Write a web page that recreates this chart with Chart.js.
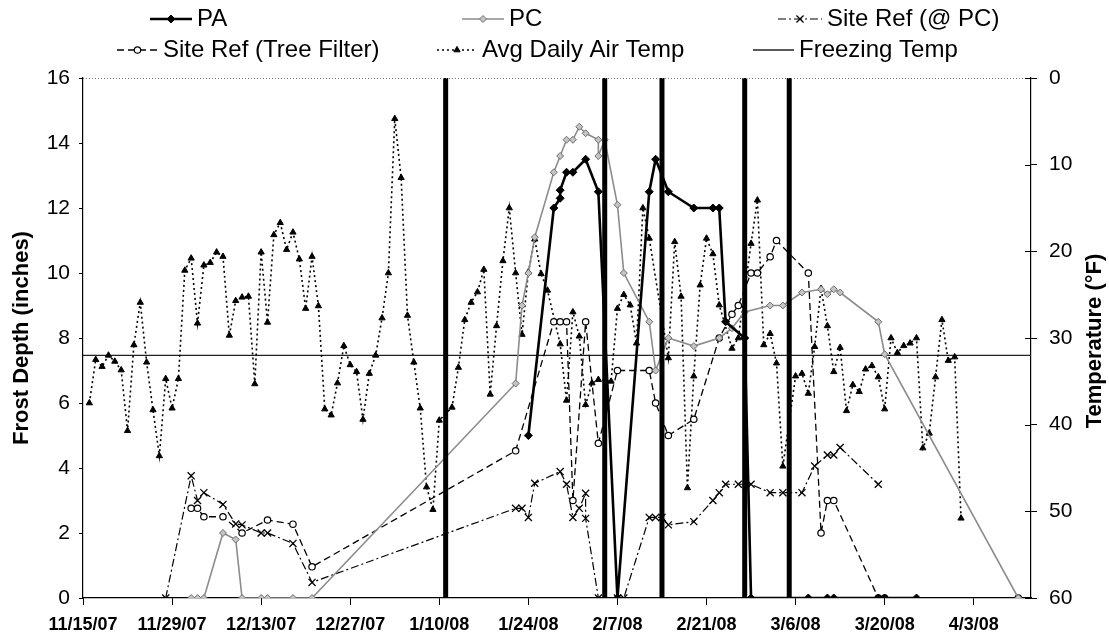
<!DOCTYPE html>
<html>
<head>
<meta charset="utf-8">
<script src="https://cdn.jsdelivr.net/npm/chart.js@4.4.1/dist/chart.umd.min.js"></script>
<style>
html,body{margin:0;padding:0;background:#fff}
</style>
</head>
<body>
<canvas id="frost" width="1109" height="640"></canvas>
<script>
/****************************************************
 Frost depth vs. air temperature, winter 2007-08
****************************************************/
const BASE = Date.UTC(2007, 10, 15);
const toDay = (s) => { const [m, d, y] = s.split("/").map(Number); return (Date.UTC(2000 + y, m - 1, d) - BASE) / 864e5; };
const toLabel = (n) => { const t = new Date(BASE + n * 864e5); return `${t.getUTCMonth() + 1}/${t.getUTCDate()}/${String(t.getUTCFullYear() % 100).padStart(2, "0")}`; };
const pts = (dates, vals) => dates.map((s, i) => ({ x: toDay(s), y: vals[i] }));

/* ===== data ===== */
const xTickDates = ["11/15/07","11/29/07","12/13/07","12/27/07","1/10/08","1/24/08","2/7/08","2/21/08","3/6/08","3/20/08","4/3/08"];
const X_MIN = "11/15/07", X_MAX = "4/12/08";
const depthTicks = [0, 2, 4, 6, 8, 10, 12, 14, 16];
const tempTicks = [0, 10, 20, 30, 40, 50, 60];

const paDates = ["1/24/08","1/28/08","1/29/08","1/29/08","1/30/08","1/31/08","2/2/08","2/4/08","2/7/08","2/12/08","2/13/08","2/15/08","2/19/08","2/22/08","2/23/08","2/24/08","2/27/08","2/28/08","3/8/08","3/11/08","3/12/08","3/19/08","3/20/08","3/25/08"];
const paDepth = [5.0,12.0,12.3,12.55,13.1,13.1,13.5,12.5,0,12.5,13.5,12.5,12.0,12.0,12.0,8.5,8.0,0,0,0,0,0,0,0];

const pcDates = ["12/2/07","12/3/07","12/4/07","12/7/07","12/9/07","12/10/07","12/13/07","12/14/07","12/18/07","12/21/07","1/22/08","1/23/08","1/24/08","1/25/08","1/28/08","1/29/08","1/30/08","1/31/08","2/1/08","2/2/08","2/4/08","2/4/08","2/5/08","2/7/08","2/8/08","2/12/08","2/13/08","2/15/08","2/19/08","2/23/08","2/25/08","2/27/08","3/2/08","3/4/08","3/7/08","3/10/08","3/11/08","3/12/08","3/13/08","3/19/08","3/20/08","4/10/08"];
const pcDepth = [0,0,0,2.0,1.8,0,0,0,0,0,6.6,9.0,10.0,11.1,13.1,13.6,14.1,14.1,14.5,14.3,14.1,13.6,14.1,12.1,10.0,8.5,7.0,8.0,7.75,8.0,8.3,8.8,9.0,9.0,9.4,9.5,9.35,9.5,9.4,8.5,7.5,0];

const srDates = ["11/28/07","12/2/07","12/3/07","12/4/07","12/7/07","12/9/07","12/10/07","12/13/07","12/14/07","12/18/07","12/21/07","1/22/08","1/23/08","1/24/08","1/25/08","1/29/08","1/30/08","1/31/08","2/1/08","2/2/08","2/2/08","2/4/08","2/7/08","2/8/08","2/12/08","2/13/08","2/14/08","2/15/08","2/19/08","2/22/08","2/23/08","2/24/08","2/26/08","2/28/08","3/2/08","3/4/08","3/7/08","3/9/08","3/11/08","3/12/08","3/13/08","3/19/08"];
const srDepth = [0,3.76,3.0,3.24,2.88,2.28,2.25,2.0,2.0,1.68,0.48,2.76,2.76,2.48,3.53,3.89,3.5,2.48,2.76,3.22,2.45,0,0,0,2.48,2.48,2.48,2.25,2.35,3.0,3.24,3.5,3.5,3.5,3.24,3.24,3.24,4.06,4.4,4.4,4.63,3.5];

const tfDates = ["12/2/07","12/3/07","12/4/07","12/7/07","12/10/07","12/14/07","12/18/07","12/21/07","1/22/08","1/28/08","1/29/08","1/30/08","1/31/08","2/2/08","2/4/08","2/7/08","2/12/08","2/13/08","2/15/08","2/19/08","2/23/08","2/25/08","2/26/08","2/28/08","2/29/08","3/2/08","3/3/08","3/8/08","3/10/08","3/11/08","3/12/08","3/19/08","3/20/08","4/10/08"];
const tfDepth = [2.76,2.76,2.5,2.5,2.0,2.4,2.27,0.96,4.53,8.5,8.5,8.5,3.0,8.5,4.76,7.0,7.0,6.0,5.0,5.5,8.0,8.73,9.0,10.0,10.0,10.5,11.0,10.0,2.0,3.0,3.0,0,0,0];

const tempDates = ["11/16/07","11/17/07","11/18/07","11/19/07","11/20/07","11/21/07","11/22/07","11/23/07","11/24/07","11/25/07","11/26/07","11/27/07","11/28/07","11/29/07","11/30/07",
  "12/1/07","12/2/07","12/3/07","12/4/07","12/5/07","12/6/07","12/7/07","12/8/07","12/9/07","12/10/07","12/11/07","12/12/07","12/13/07","12/14/07","12/15/07","12/16/07","12/17/07","12/18/07","12/19/07","12/20/07","12/21/07","12/22/07","12/23/07","12/24/07","12/25/07","12/26/07","12/27/07","12/28/07","12/29/07","12/30/07","12/31/07",
  "1/1/08","1/2/08","1/3/08","1/4/08","1/5/08","1/6/08","1/7/08","1/8/08","1/9/08","1/10/08","1/12/08","1/13/08","1/14/08","1/15/08","1/16/08","1/17/08","1/18/08","1/19/08","1/20/08","1/21/08","1/22/08","1/23/08","1/24/08","1/25/08","1/26/08","1/27/08","1/29/08","1/30/08","1/31/08",
  "2/1/08","2/2/08","2/3/08","2/4/08","2/6/08","2/7/08","2/8/08","2/9/08","2/10/08","2/11/08","2/12/08","2/15/08","2/16/08","2/17/08","2/18/08","2/19/08","2/20/08","2/21/08","2/22/08","2/23/08","2/25/08","2/26/08","2/28/08","2/29/08",
  "3/1/08","3/2/08","3/3/08","3/4/08","3/6/08","3/7/08","3/8/08","3/9/08","3/10/08","3/11/08","3/12/08","3/13/08","3/14/08","3/15/08","3/16/08","3/17/08","3/18/08","3/19/08","3/20/08","3/21/08","3/22/08","3/23/08","3/24/08","3/25/08","3/26/08","3/27/08","3/28/08","3/29/08","3/30/08","3/31/08","4/1/08"];
const tempF = [37.5,32.5,33.3,32.0,32.7,33.7,40.7,30.8,25.9,32.8,38.3,43.6,34.7,38.1,34.7,
  22.2,20.8,28.3,21.6,21.3,20.1,20.6,29.7,25.7,25.3,25.2,35.3,20.1,28.2,18.1,16.7,19.8,17.8,20.9,26.6,20.6,26.3,38.2,38.9,35.2,30.9,33.1,33.9,39.4,34.1,32.0,
  27.7,22.5,4.7,11.5,27.4,32.8,38.1,47.2,49.8,39.5,38.0,33.4,27.9,25.9,24.7,22.1,36.5,28.6,21.1,15.0,22.5,29.6,22.4,18.6,22.6,24.5,30.7,37.2,27.0,
  29.8,37.7,35.2,34.8,35.0,26.6,25.0,26.2,30.6,15.0,18.5,32.3,18.9,25.2,47.3,34.4,23.9,18.5,20.3,26.2,31.2,30.0,19.1,14.1,
  30.8,29.5,32.9,44.8,34.4,34.1,36.4,31.0,24.3,28.6,33.9,31.1,38.4,35.4,36.2,33.6,33.2,34.5,38.2,30.0,31.7,30.9,30.6,30.0,42.7,41.0,34.5,27.9,32.6,32.2,50.8];

const FREEZE_F = 32;
const eventDates = ["1/11/08","2/5/08","2/14/08","2/27/08","3/5/08"];

/* ===== look ===== */
const FONT = "'Liberation Sans', Arial, sans-serif";
Chart.defaults.font.family = FONT;
Chart.defaults.color = "#000";

const xMin = toDay(X_MIN), xMax = toDay(X_MAX);

const eventSets = eventDates.map((d) => ({
  label: "_event", yAxisID: "y",
  data: [{ x: toDay(d), y: 0 }, { x: toDay(d), y: 16 }],
  borderColor: "#000", borderWidth: 5, pointRadius: 0
}));

const datasets = [
  ...eventSets,
  { label: "PA", yAxisID: "y", data: pts(paDates, paDepth),
    borderColor: "#000", borderWidth: 2.6, pointStyle: "rectRot", pointRadius: 4,
    pointBackgroundColor: "#000", pointBorderColor: "#000", pointBorderWidth: 1 },
  { label: "PC", yAxisID: "y", data: pts(pcDates, pcDepth),
    borderColor: "#8c8c8c", borderWidth: 1.6, pointStyle: "rectRot", pointRadius: 3.5,
    pointBackgroundColor: "#c4c4c4", pointBorderColor: "#6e6e6e", pointBorderWidth: 1 },
  { label: "Site Ref (@ PC)", yAxisID: "y", data: pts(srDates, srDepth),
    borderColor: "#000", borderWidth: 1.2, borderDash: [8, 3, 2, 3], pointStyle: "crossRot", pointRadius: 5,
    pointBackgroundColor: "#000", pointBorderColor: "#000", pointBorderWidth: 1.3 },
  { label: "Site Ref (Tree Filter)", yAxisID: "y", data: pts(tfDates, tfDepth),
    borderColor: "#000", borderWidth: 1.3, borderDash: [7, 4], pointStyle: "circle", pointRadius: 3.2,
    pointBackgroundColor: "#fff", pointBorderColor: "#000", pointBorderWidth: 1.2 },
  { label: "Avg Daily Air Temp", yAxisID: "y2", data: pts(tempDates, tempF),
    borderColor: "#000", borderWidth: 1.6, borderDash: [2, 3], pointStyle: "triangle", pointRadius: 3.6,
    pointBackgroundColor: "#000", pointBorderColor: "#000", pointBorderWidth: 1 },
  { label: "Freezing Temp", yAxisID: "y2", data: [{ x: xMin, y: FREEZE_F }, { x: xMax, y: FREEZE_F }],
    borderColor: "#222", borderWidth: 1.4, pointRadius: 0 }
];

// legend: [label, sample x, row y, sample width]
const LEGEND = [
  ["PA", 150, 19, 42], ["PC", 462, 19, 42], ["Site Ref (@ PC)", 778, 19, 44],
  ["Site Ref (Tree Filter)", 117, 50, 41], ["Avg Daily Air Temp", 437, 50, 40], ["Freezing Temp", 753, 50, 41]
];

function marker(ctx, ds, x, y){
  if (!ds.pointRadius) return;
  ctx.fillStyle = ds.pointBackgroundColor; ctx.strokeStyle = ds.pointBorderColor; ctx.lineWidth = ds.pointBorderWidth;
  if (Chart.helpers && Chart.helpers.drawPoint) {
    Chart.helpers.drawPoint(ctx, { pointStyle: ds.pointStyle, radius: ds.pointRadius, borderWidth: ds.pointBorderWidth, rotation: 0 }, x, y);
  } else {
    ctx.beginPath(); ctx.arc(x, y, ds.pointRadius, 0, Math.PI * 2); ctx.fill(); ctx.stroke();
  }
}

const decor = {
  id: "decor",
  afterDraw(chart){
    const { ctx, chartArea: a } = chart;
    ctx.save();
    // dotted top edge of plot area
    ctx.strokeStyle = "#777"; ctx.lineWidth = 1; ctx.setLineDash([1, 2]);
    ctx.beginPath(); ctx.moveTo(a.left, a.top + 0.5); ctx.lineTo(a.right, a.top + 0.5); ctx.stroke();
    ctx.setLineDash([]);
    // inner half of the cross ticks on the right axis
    const y2 = chart.scales.y2;
    ctx.strokeStyle = "#000"; ctx.lineWidth = 1;
    tempTicks.forEach((t) => { const py = Math.round(y2.getPixelForValue(t)) + 0.5; ctx.beginPath(); ctx.moveTo(a.right - 6, py); ctx.lineTo(a.right, py); ctx.stroke(); });

    // legend
    ctx.font = `24px ${FONT}`; ctx.textBaseline = "middle"; ctx.textAlign = "left";
    LEGEND.forEach(([label, x, y, w]) => {
      const ds = chart.data.datasets.find((d) => d.label === label);
      ctx.strokeStyle = ds.borderColor; ctx.lineWidth = ds.borderWidth; ctx.setLineDash(ds.borderDash || []);
      ctx.beginPath(); ctx.moveTo(x, y); ctx.lineTo(x + w, y); ctx.stroke();
      ctx.setLineDash([]);
      marker(ctx, ds, x + w / 2, y);
      ctx.fillStyle = "#000"; ctx.fillText(label, x + w + 5, y);
    });

    // axis titles
    ctx.font = `bold 22px ${FONT}`; ctx.textAlign = "center";
    ctx.save(); ctx.translate(22, 338); ctx.rotate(-Math.PI / 2); ctx.fillText("Frost Depth (inches)", 0, 0); ctx.restore();
    ctx.save(); ctx.translate(1095, 341); ctx.rotate(-Math.PI / 2); ctx.fillText("Temperature (°F)", 0, 0); ctx.restore();
    ctx.restore();
  }
};

new Chart(document.getElementById("frost").getContext("2d"), {
  type: "line",
  data: { datasets },
  options: {
    responsive: false, animation: false, events: [],
    layout: { padding: { top: 78, left: 0, right: 0, bottom: 0 } },
    elements: { line: { tension: 0 } },
    plugins: { legend: { display: false }, tooltip: { enabled: false } },
    scales: {
      x: {
        type: "linear", min: xMin, max: xMax,
        afterBuildTicks(s){ s.ticks = xTickDates.map((d) => ({ value: toDay(d) })); },
        afterFit(s){ s.height = 42; },
        ticks: { callback: (v) => toLabel(v), font: { size: 18, weight: "bold" }, padding: 9, maxRotation: 0, autoSkip: false, color: "#000" },
        grid: { drawOnChartArea: false, drawTicks: true, tickLength: 7, color: "#000" },
        border: { display: true, color: "#000", width: 1.2 }
      },
      y: {
        position: "left", min: 0, max: 16,
        afterBuildTicks(s){ s.ticks = depthTicks.map((v) => ({ value: v })); },
        afterFit(s){ s.width = 83; },
        ticks: { font: { size: 21 }, padding: 9, color: "#000" },
        grid: { drawOnChartArea: false, drawTicks: true, tickLength: 4, color: "#000" },
        border: { display: true, color: "#000", width: 1.2 }
      },
      y2: {
        position: "right", min: 0, max: 60, reverse: true,
        afterBuildTicks(s){ s.ticks = tempTicks.map((v) => ({ value: v })); },
        afterFit(s){ s.width = 78; },
        ticks: { font: { size: 21 }, padding: 12, color: "#000" },
        grid: { drawOnChartArea: false, drawTicks: true, tickLength: 6, color: "#000" },
        border: { display: true, color: "#000", width: 1.2 }
      }
    }
  },
  plugins: [decor]
});
</script>
</body>
</html>
